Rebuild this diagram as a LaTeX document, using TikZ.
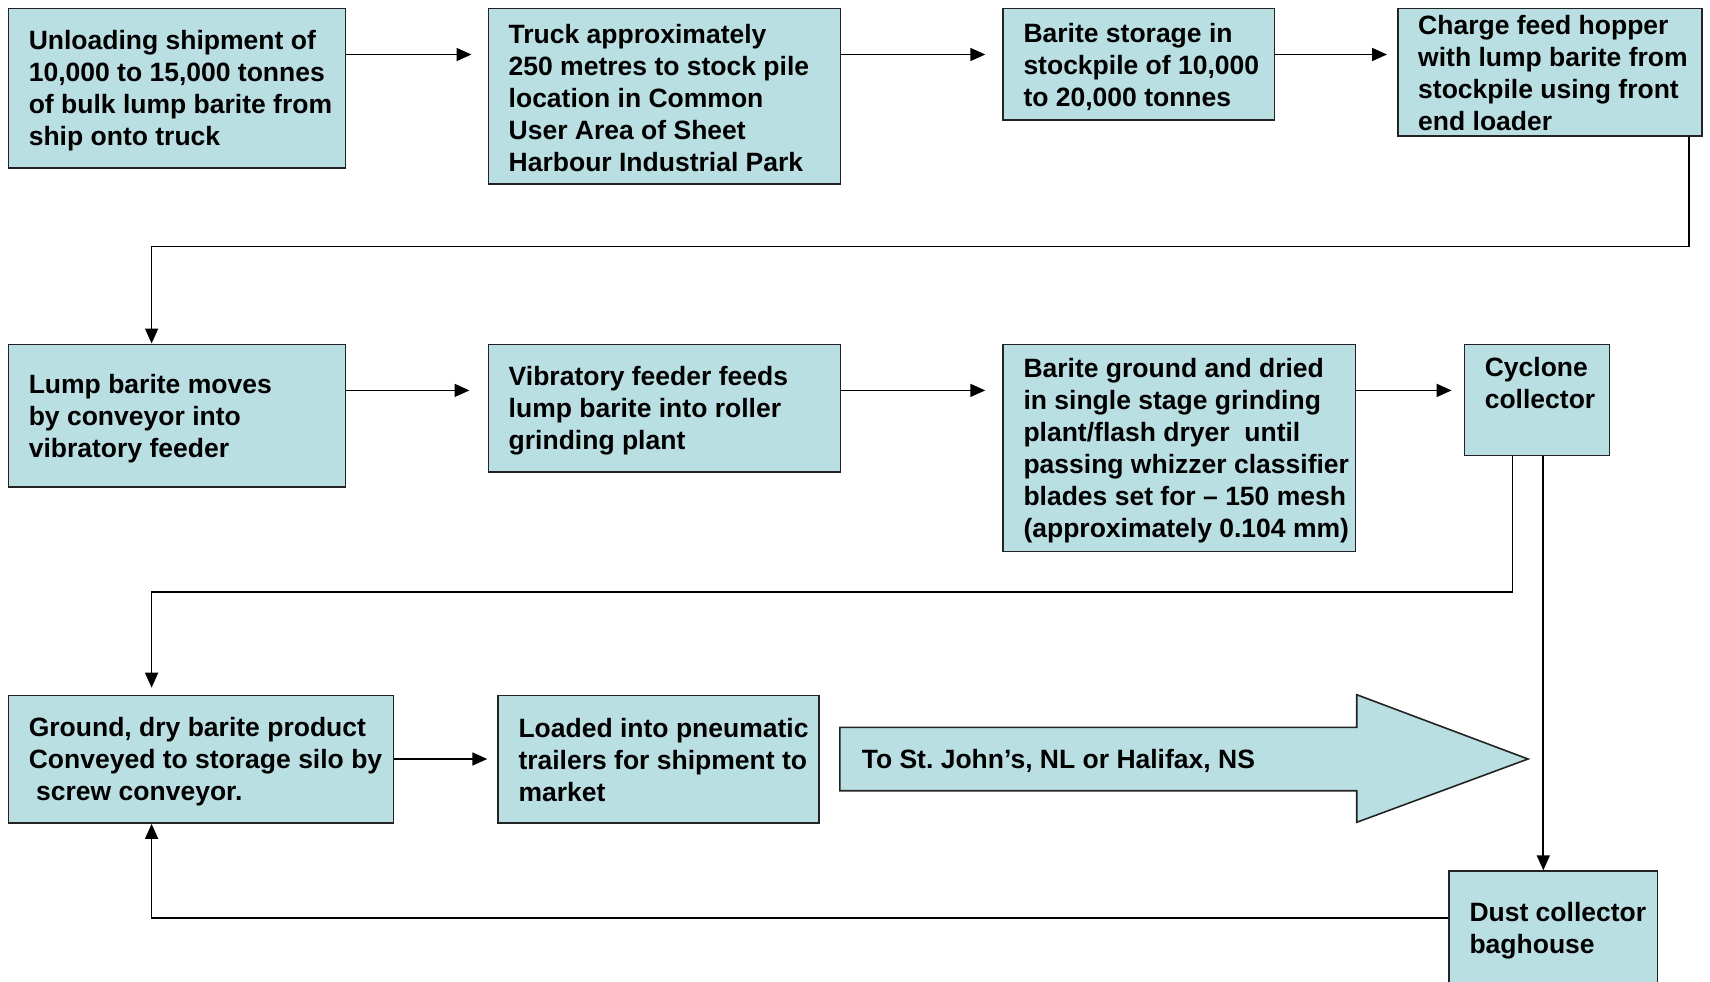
\documentclass[tikz,border=0pt]{standalone}
\usepackage{fontspec}
\setmainfont{Liberation Sans}
\usetikzlibrary{arrows.meta,calc}
\definecolor{boxfill}{RGB}{186,223,227}
\definecolor{boxline}{RGB}{35,35,35}
\frenchspacing
\begin{document}
\begin{tikzpicture}[x=1pt,y=-1pt,
  box/.style={draw=boxline, fill=boxfill, line width=1.6pt, rectangle, anchor=north west, inner sep=0pt},
  txt/.style={anchor=west, inner sep=0pt, align=left, font=\bfseries\fontsize{26.5pt}{32pt}\selectfont},
  arr/.style={line width=1.7pt, -{Triangle[length=15pt,width=13pt]}}]
\useasboundingbox (0,0) rectangle (1710,982);
\clip (0,0) rectangle (1710,982);

% row 1
\node[box, minimum width=337pt, minimum height=159.3pt] (b1) at (7.6,7.6) {};
\node[txt] (t1) at ([xshift=21pt,yshift=-3pt]b1.west) {Unloading shipment of\\10,000 to 15,000 tonnes\\of bulk lump barite from\\ship onto truck};
\node[box, minimum width=352.3pt, minimum height=175.6pt] (b2) at (487.5,7.6) {};
\node[txt] (t2) at ([xshift=21pt,yshift=-2pt]b2.west) {Truck approximately\\250 metres to stock pile\\location in Common\\User Area of Sheet\\Harbour Industrial Park};
\node[box, minimum width=271.5pt, minimum height=111.3pt] (b3) at (1002.3,7.6) {};
\node[txt] (t3) at ([xshift=21pt,yshift=-2.5pt]b3.west) {Barite storage in\\stockpile of 10,000\\to 20,000 tonnes};
\node[box, minimum width=304.3pt, minimum height=127.6pt] (b4) at (1397,7.6) {};
\node[txt] (t4) at ([xshift=21pt,yshift=-1pt]b4.west) {Charge feed hopper\\with lump barite from\\stockpile using front\\end loader};

% row 2
\node[box, minimum width=337pt, minimum height=142.9pt] (b5) at (7.6,343.5) {};
\node[txt] (t5) at ([xshift=21pt,yshift=-3pt]b5.west) {Lump barite moves\\by conveyor into\\vibratory feeder};
\node[box, minimum width=352.3pt, minimum height=127.6pt] (b6) at (487.5,343.5) {};
\node[txt] (t6) at ([xshift=21pt,yshift=-2.5pt]b6.west) {Vibratory feeder feeds\\lump barite into roller\\grinding plant};
\node[box, minimum width=352.2pt, minimum height=207.3pt] (b7) at (1002.3,343.5) {};
\node[txt] (t7) at ([xshift=21pt,yshift=-2.5pt]b7.west) {Barite ground and dried\\in single stage grinding\\plant/flash dryer~ until\\passing whizzer classifier\\blades set for – 150 mesh\\(approximately 0.104 mm)};
\node[box, minimum width=145pt, minimum height=111.3pt] (cy) at (1463.6,343.5) {};
\node[txt] (tcy) at ([xshift=21pt,yshift=17pt]cy.west) {Cyclone\\collector};

% row 3
\node[box, minimum width=385pt, minimum height=127.6pt] (b9) at (7.6,694.7) {};
\node[txt] (t9) at ([xshift=21pt,yshift=-2pt]b9.west) {Ground, dry barite product\\Conveyed to storage silo by\\\hspace*{0.28em}screw conveyor.};
\node[box, minimum width=320.7pt, minimum height=127.6pt] (b10) at (497.3,694.7) {};
\node[txt] (t10) at ([xshift=21pt,yshift=-1pt]b10.west) {Loaded into pneumatic\\trailers for shipment to\\market};

% big arrow
\draw[draw=boxline, fill=boxfill, line width=1.6pt, line join=miter]
  (839.8,727.4) -- (1356.7,727.4) -- (1356.7,694.7) -- (1528,759) -- (1356.7,822.3) -- (1356.7,790.7) -- (839.8,790.7) -- cycle;
\node[txt] (tship) at (861.6,761) {To St. John’s, NL or Halifax, NS};

% dust collector
\node[box, minimum width=208.3pt, minimum height=117pt] (dust) at (1448.3,870.3) {};
\node[txt] (tdust) at ([xshift=21pt,yshift=-1pt]dust.west) {Dust collector\\baghouse};

% helper coordinates
\coordinate (ya) at (0,54.5);
\coordinate (yb) at (0,390.4);
\coordinate (yc) at (0,759);
\coordinate (yd) at (0,918.3);
\coordinate (colx) at (151.6,0);
\coordinate (r1) at (0,246.5);
\coordinate (r2) at (0,592.2);
\coordinate (c4) at ([xshift=-14pt]b4.south east);
\coordinate (cl) at ([xshift=49pt]cy.south west);
\coordinate (dx) at ([xshift=95pt]dust.north west);

% connectors
\draw[arr, shorten >=16pt] (b1.east |- ya) -- (b2.west |- ya);
\draw[arr, shorten >=17pt] (b2.east |- ya) -- (b3.west |- ya);
\draw[arr, shorten >=10pt] (b3.east |- ya) -- (b4.west |- ya);
\draw[arr] (c4) |- (colx |- r1) -- (colx |- b5.north);
\draw[arr, shorten >=18pt] (b5.east |- yb) -- (b6.west |- yb);
\draw[arr, shorten >=17pt] (b6.east |- yb) -- (b7.west |- yb);
\draw[arr, shorten >=12pt] (b7.east |- yb) -- (cy.west |- yb);
\draw[arr, shorten >=7pt] (cl) |- (colx |- r2) -- (colx |- b9.north);
\draw[arr] (dx |- cy.south) -- (dx);
\draw[arr, shorten >=10pt] (b9.east |- yc) -- (b10.west |- yc);
\draw[arr] (dust.west |- yd) -| (colx |- b9.south);
\end{tikzpicture}
\end{document}
